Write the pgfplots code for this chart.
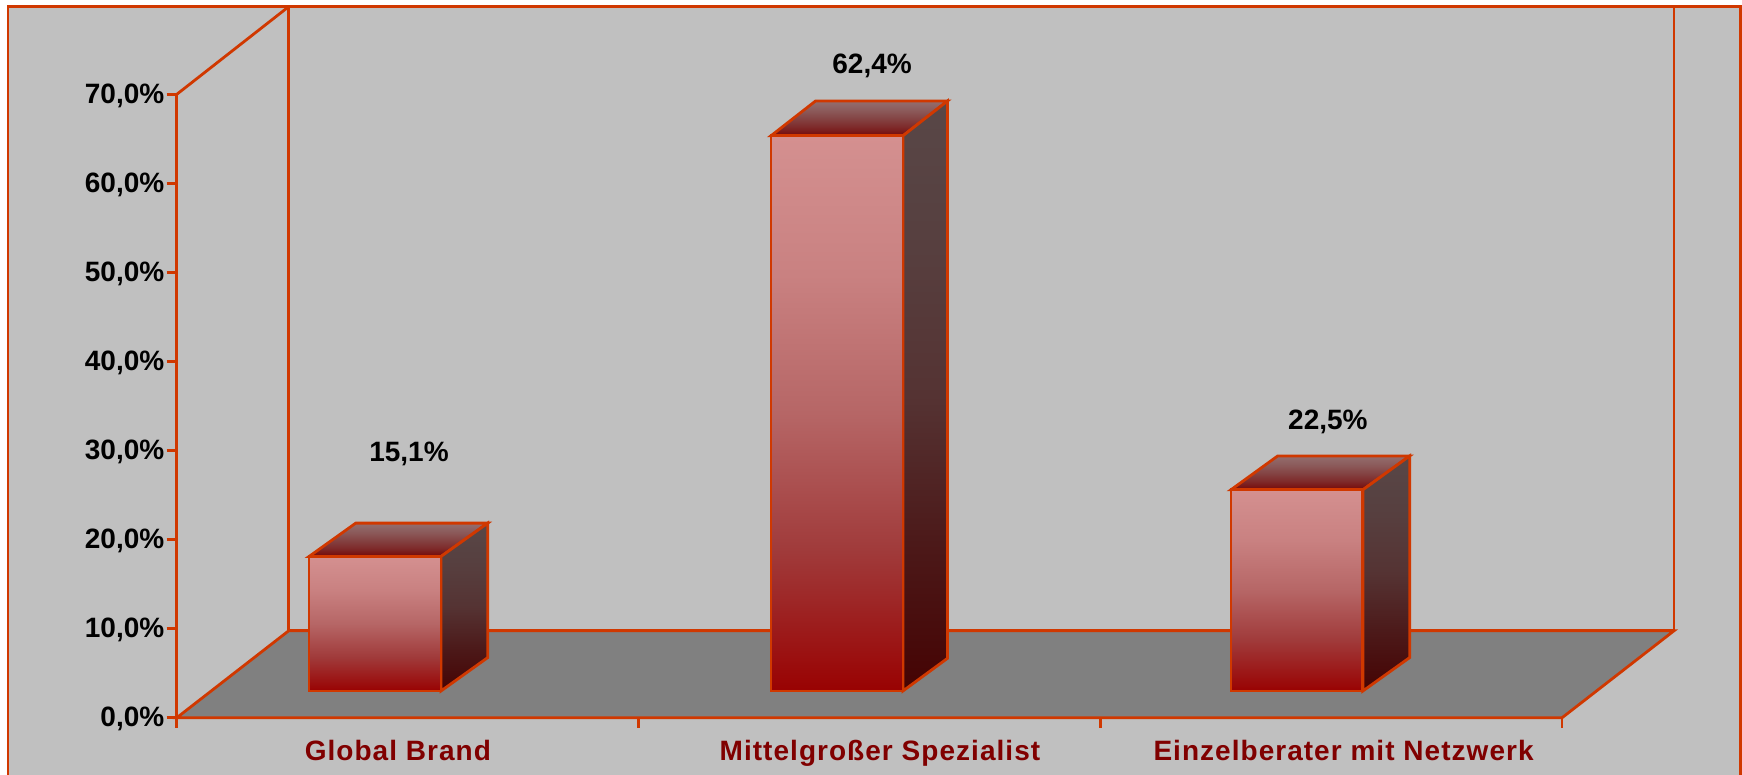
\documentclass[border=0pt]{standalone}
\usepackage{fontspec}
\setmainfont{Liberation Sans}
\usepackage{pgfplots}
\pgfplotsset{compat=1.18}
\definecolor{redline}{HTML}{D03800}
\definecolor{bggray}{HTML}{C0C0C0}
\definecolor{floorgray}{HTML}{808080}
\definecolor{catred}{HTML}{800000}
\definecolor{f0}{HTML}{990202}
\definecolor{f1}{HTML}{A03A3A}
\definecolor{f2}{HTML}{B66666}
\definecolor{f3}{HTML}{C98181}
\definecolor{f4}{HTML}{D49090}
\definecolor{s0}{HTML}{450303}
\definecolor{s1}{HTML}{4C1919}
\definecolor{s2}{HTML}{553333}
\definecolor{s3}{HTML}{573F3F}
\definecolor{s4}{HTML}{584747}
\definecolor{t0}{HTML}{750808}
\definecolor{t1}{HTML}{7E2A2A}
\definecolor{t2}{HTML}{844444}
\definecolor{t3}{HTML}{8C5C5C}
\definecolor{t4}{HTML}{946E6E}
\pgfdeclareverticalshading{frontsh}{100bp}{color(0bp)=(f0); color(25bp)=(f0); color(37.5bp)=(f1); color(50bp)=(f2); color(62.5bp)=(f3); color(75bp)=(f4); color(100bp)=(f4)}
\pgfdeclareverticalshading{sidesh}{100bp}{color(0bp)=(s0); color(25bp)=(s0); color(37.5bp)=(s1); color(50bp)=(s2); color(62.5bp)=(s3); color(75bp)=(s4); color(100bp)=(s4)}
\pgfdeclareverticalshading{topsh}{100bp}{color(0bp)=(t0); color(25bp)=(t0); color(37.5bp)=(t1); color(50bp)=(t2); color(62.5bp)=(t3); color(75bp)=(t4); color(100bp)=(t4)}
\pgfplotsset{
  frontface/.style={shade, shading=frontsh, shading angle=0, draw=redline, line width=1.4pt, forget plot},
  sideface/.style={shade, shading=sidesh, shading angle=0, draw=redline, line width=1.4pt, forget plot},
  topface/.style={shade, shading=topsh, shading angle=0, draw=redline, line width=1.4pt, forget plot},
}
\begin{document}
\begin{tikzpicture}
\path[use as bounding box] (0,0) rectangle (871pt,387.5pt);
\fill[bggray] (4pt,0pt) rectangle (870.35pt,384.15pt);
\draw[redline,line width=1.4pt] (4pt,0pt) -- (4pt,384.15pt) -- (870.35pt,384.15pt) -- (870.35pt,0pt);
\begin{axis}[
  at={(88.35pt,28.6pt)}, anchor=origin,
  scale only axis, width=692.65pt, height=311.7pt,
  xmin=0, xmax=3, ymin=0, ymax=70,
  clip=false,
  axis x line=bottom, axis y line=left,
  axis line style={-, draw=redline, line width=1.4pt},
  tick style={draw=redline, line width=1.4pt},
  tick align=outside,
  major tick length=5pt,
  xtick={0,1,2,3}, xticklabels={},
  extra x ticks={0.479,1.523,2.527},
  extra x tick labels={Global Brand,Mittelgroßer Spezialist,Einzelberater mit Netzwerk},
  extra x tick style={major tick length=0pt, tick style={draw=none},
    xticklabel style={font=\fontsize{14}{16}\selectfont\bfseries\addfontfeature{LetterSpace=3.7}, text=catred, inner sep=0pt, anchor=base, yshift=-21.5pt}},
  ytick={0,10,20,30,40,50,60,70},
  yticklabels={{0,0\%},{10,0\%},{20,0\%},{30,0\%},{40,0\%},{50,0\%},{60,0\%},{70,0\%}},
  yticklabel style={font=\fontsize{14}{16}\selectfont\bfseries, text=black, inner sep=0pt, anchor=east, xshift=-1pt, yshift=-0.5pt},
]
% back wall and side edge
\addplot[draw=redline, line width=1.4pt, forget plot] coordinates {(0.2425,9.77) (3.2425,9.77) (3.2425,79.85) (0.2425,79.85)} -- cycle;
\addplot[draw=redline, line width=1.4pt, forget plot] coordinates {(0,70) (0.2425,79.85)};
% floor
\addplot[fill=floorgray, draw=redline, line width=1.4pt, forget plot] coordinates {(0,0) (3,0) (3.2425,9.77) (0.2425,9.77)} -- cycle;
% bar 1: 15.1 (base lifted by 3.01)
\addplot[topface] coordinates {(0.2865,18.11) (0.5723,18.11) (0.6736,21.86) (0.3878,21.86)} -- cycle;
\addplot[sideface] coordinates {(0.5723,3.01) (0.6736,6.76) (0.6736,21.86) (0.5723,18.11)} -- cycle;
\addplot[frontface] coordinates {(0.2865,3.01) (0.5723,3.01) (0.5723,18.11) (0.2865,18.11)} -- cycle;
% bar 2: 62.4
\addplot[topface] coordinates {(1.2869,65.35) (1.5727,65.35) (1.6693,69.26) (1.3835,69.26)} -- cycle;
\addplot[sideface] coordinates {(1.5727,3.01) (1.6693,6.68) (1.6693,69.26) (1.5727,65.35)} -- cycle;
\addplot[frontface] coordinates {(1.2869,3.01) (1.5727,3.01) (1.5727,65.35) (1.2869,65.35)} -- cycle;
% bar 3: 22.5
\addplot[topface] coordinates {(2.283,25.6) (2.5688,25.6) (2.6701,29.4) (2.3843,29.4)} -- cycle;
\addplot[sideface] coordinates {(2.5688,3.01) (2.6701,6.76) (2.6701,29.4) (2.5688,25.6)} -- cycle;
\addplot[frontface] coordinates {(2.283,3.01) (2.5688,3.01) (2.5688,25.6) (2.283,25.6)} -- cycle;
% value labels
\addplot[draw=none, mark=none, forget plot, point meta=explicit symbolic,
  nodes near coords,
  every node near coord/.style={anchor=center, inner sep=0pt, yshift=-0.8pt, font=\fontsize{14}{16}\selectfont\bfseries, text=black}]
  coordinates {(0.503,29.85)[15,1\%] (1.506,73.36)[62,4\%] (2.493,33.44)[22,5\%]};
\end{axis}
\end{tikzpicture}
\end{document}
